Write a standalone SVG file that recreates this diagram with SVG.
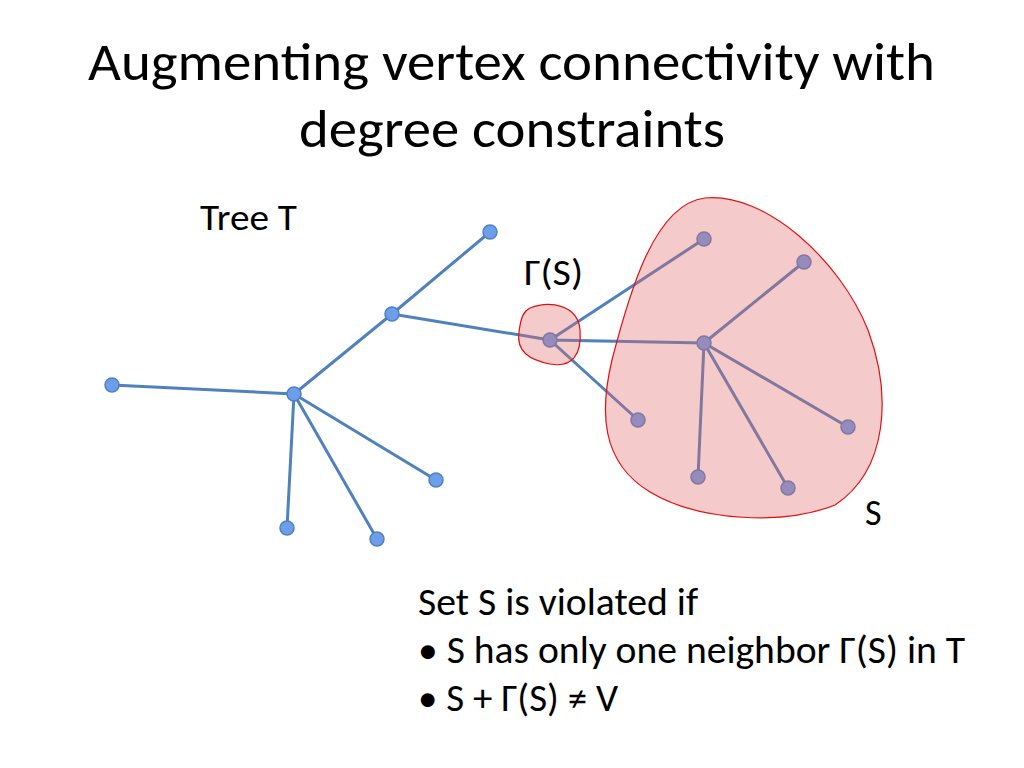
<svg xmlns="http://www.w3.org/2000/svg" width="1024" height="768" viewBox="0 0 1024 768">
<style>
.t{font-family:Calibri,Carlito,"Liberation Sans",sans-serif;fill:#000}
.e{stroke:#4f81bd;stroke-width:3;fill:none}
.n{fill:#6d9eeb;stroke:#4f81bd;stroke-width:1.5}
.b{fill:#e06666;fill-opacity:0.35;stroke:#e01010;stroke-width:1.2}
</style>
<rect width="1024" height="768" fill="#fff"/>
<text class="t" x="88" y="80" font-size="54" textLength="847" lengthAdjust="spacingAndGlyphs">Augmenting vertex connectivity with</text>
<text class="t" x="299" y="147" font-size="54" textLength="426" lengthAdjust="spacingAndGlyphs">degree constraints</text>
<text class="t" x="200" y="230" font-size="36" textLength="97" lengthAdjust="spacingAndGlyphs">Tree T</text>
<text class="t" x="524" y="285" font-size="36" textLength="59" lengthAdjust="spacingAndGlyphs">Γ(S)</text>
<text class="t" x="865" y="525" font-size="36">S</text>
<text class="t" x="418" y="615" font-size="38" textLength="280" lengthAdjust="spacingAndGlyphs">Set S is violated if</text>
<text class="t" x="418" y="663" font-size="38" textLength="547" lengthAdjust="spacingAndGlyphs">• S has only one neighbor Γ(S) in T</text>
<text class="t" x="418" y="711" font-size="38" textLength="200" lengthAdjust="spacingAndGlyphs">• S + Γ(S) ≠ V</text>
<g id="connectors">
<path class="e" d="M490,232 L392,314 M392,314 L550,340 M392,314 L294,394 M112,385 L294,394 M294,394 L436,480 M294,394 L287,528 M294,394 L377,539 M550,340 L704,239 M550,340 L704,343 M550,340 L638,420 M704,343 L804,262 M704,343 L848,427 M704,343 L698,477 M704,343 L788,488"/>
</g>
<g id="nodes">
<circle class="n" cx="490" cy="232" r="7"/>
<circle class="n" cx="392" cy="314" r="7"/>
<circle class="n" cx="294" cy="394" r="7"/>
<circle class="n" cx="112" cy="385" r="7"/>
<circle class="n" cx="436" cy="480" r="7"/>
<circle class="n" cx="287" cy="528" r="7"/>
<circle class="n" cx="377" cy="539" r="7"/>
<circle class="n" cx="550" cy="340" r="7"/>
<circle class="n" cx="704" cy="239" r="7"/>
<circle class="n" cx="804" cy="262" r="7"/>
<circle class="n" cx="704" cy="343" r="7"/>
<circle class="n" cx="638" cy="420" r="7"/>
<circle class="n" cx="848" cy="427" r="7"/>
<circle class="n" cx="698" cy="477" r="7"/>
<circle class="n" cx="788" cy="488" r="7"/>
</g>
<g id="S">
<path class="b" d="M705,198 C765,192 840,260 868,330 C892,395 888,470 835,505 C785,525 700,522 650,492 C600,462 600,410 612,360 C630,290 655,204 705,198 Z"/>
</g>
<g id="GammaS">
<path class="b" d="M530,308 C550,300 578,305 580,330 C582,355 572,368 550,364 C530,360 516,352 519,332 C521,316 524,311 530,308 Z"/>
</g>
</svg>
